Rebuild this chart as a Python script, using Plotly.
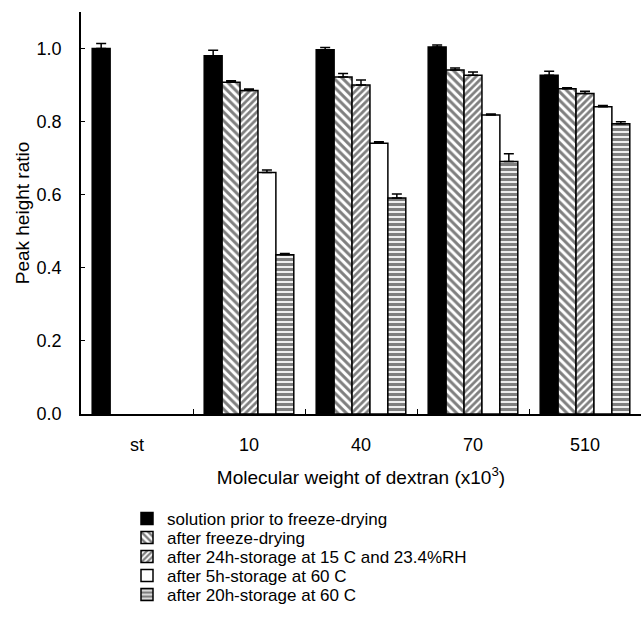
import plotly.graph_objects as go

categories = ["st", "10", "40", "70", "510"]

series_names = [
    "solution prior to freeze-drying",
    "after freeze-drying",
    "after 24h-storage at 15 C and 23.4%RH",
    "after 5h-storage at 60 C",
    "after 20h-storage at 60 C",
]

solution_prior = [1.000, 0.980, 0.997, 1.004, 0.927]
after_fd = [None, 0.908, 0.922, 0.941, 0.890]
after_24h = [None, 0.885, 0.900, 0.927, 0.877]
after_5h = [None, 0.661, 0.741, 0.818, 0.841]
after_20h = [None, 0.436, 0.591, 0.691, 0.794]

err_solution_prior = [0.014, 0.015, 0.006, 0.006, 0.011]
err_after_fd = [0, 0.004, 0.010, 0.006, 0.003]
err_after_24h = [0, 0.004, 0.014, 0.009, 0.006]
err_after_5h = [0, 0.007, 0.004, 0.003, 0.003]
err_after_20h = [0, 0.003, 0.011, 0.021, 0.006]

values = [solution_prior, after_fd, after_24h, after_5h, after_20h]
errors = [err_solution_prior, err_after_fd, err_after_24h, err_after_5h, err_after_20h]

fills = [
    dict(color="black"),
    dict(color="white", pattern=dict(shape="\\", fgcolor="black", bgcolor="white", size=6, solidity=0.5)),
    dict(color="white", pattern=dict(shape="/", fgcolor="black", bgcolor="white", size=5, solidity=0.55)),
    dict(color="white"),
    dict(color="white", pattern=dict(shape="-", fgcolor="black", bgcolor="white", size=5, solidity=0.65)),
]

FONT = "Liberation Sans, Arial, sans-serif"

fig = go.Figure()
legend_names = ["legend", "legend2", "legend3", "legend4", "legend5"]
for i in range(5):
    m = dict(fills[i])
    m["line"] = dict(color="black", width=1.5)
    fig.add_trace(go.Bar(
        x=categories, y=values[i], name=series_names[i], marker=m,
        legend=legend_names[i],
        error_y=dict(type="data", symmetric=False, array=errors[i],
                     arrayminus=[0] * 5, color="black", thickness=1.5, width=5),
    ))

row_pix = [519, 538, 557, 576, 595]
layout_legends = {}
for i, ln in enumerate(legend_names):
    layout_legends[ln] = dict(
        x=(127 - 81) / 560, xanchor="left",
        y=(414 - row_pix[i]) / 402, yanchor="middle",
        font=dict(family=FONT, size=17, color="black"),
        bgcolor="rgba(0,0,0,0)", borderwidth=0,
    )

fig.update_layout(
    width=644, height=629,
    margin=dict(l=81, r=3, t=12, b=215, autoexpand=False),
    paper_bgcolor="white", plot_bgcolor="white",
    barmode="group", bargap=0.2, bargroupgap=0,
    showlegend=True,
    font=dict(family=FONT, color="black"),
    xaxis=dict(
        showline=True, linecolor="black", linewidth=1.5,
        ticks="inside", tickson="boundaries", ticklen=5, tickwidth=1.2, tickcolor="black",
        tickfont=dict(size=18, family=FONT), ticklabelstandoff=14,
        showgrid=False, zeroline=False,
        title=dict(text="Molecular weight of dextran (x10<sup>3</sup>)",
                   font=dict(size=19, family=FONT), standoff=16),
    ),
    yaxis=dict(
        range=[0, 1.1], tickvals=[0, 0.2, 0.4, 0.6, 0.8, 1.0], tickformat=".1f",
        showline=True, linecolor="black", linewidth=1.5,
        ticks="inside", ticklen=4, tickwidth=1.2, tickcolor="black",
        tickfont=dict(size=18, family=FONT), ticklabelstandoff=14,
        showgrid=False, zeroline=False,
        title=dict(text="Peak height ratio", font=dict(size=19, family=FONT), standoff=2),
    ),
    **layout_legends,
)

fig.write_html("out.html", config={"displayModeBar": False},
               post_script="document.body.style.margin='0px';")
